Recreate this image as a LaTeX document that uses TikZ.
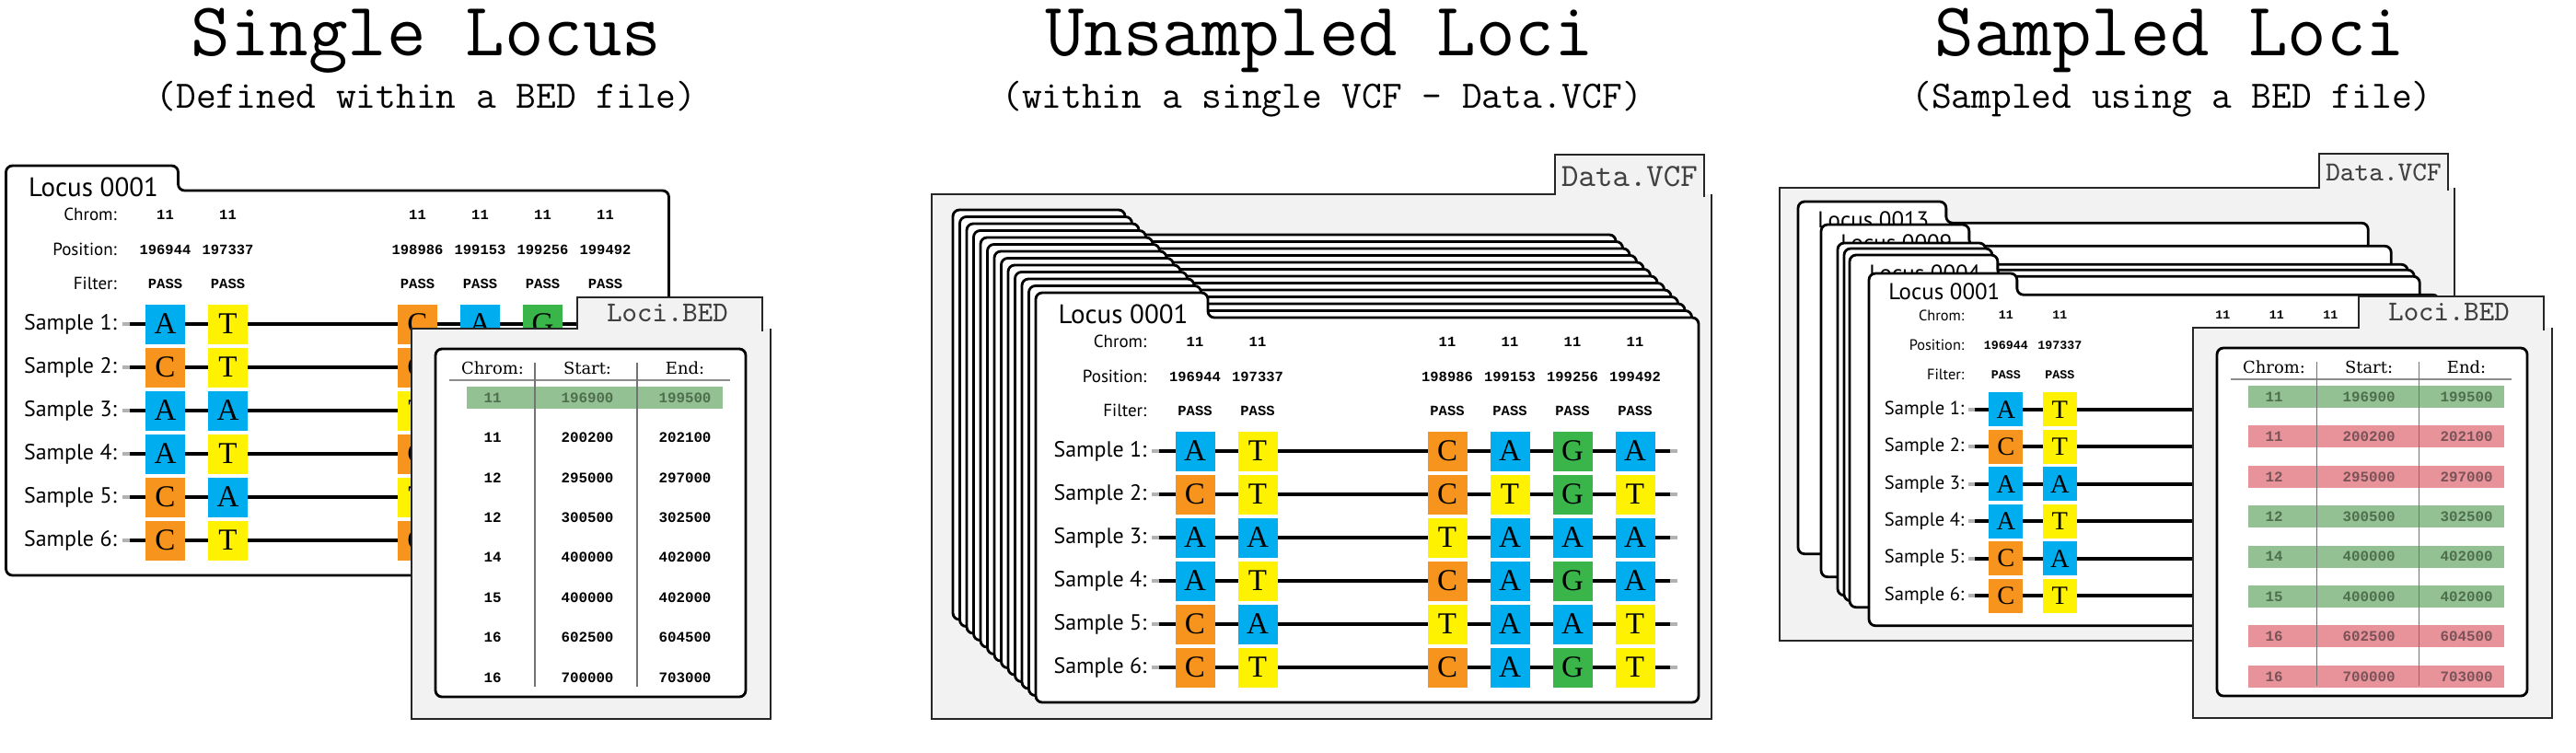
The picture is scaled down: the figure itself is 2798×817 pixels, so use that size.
\documentclass[tikz,border=0pt]{standalone}
\usepackage{fontspec}
\newfontfamily\sansfam{PT Sans}
\newfontfamily\monofam{Liberation Mono}
\newfontfamily\seriffam{Liberation Serif}
\newfontfamily\headfam{DejaVu Serif}
\definecolor{baseA}{HTML}{00AEEF}
\definecolor{baseT}{HTML}{FFF200}
\definecolor{baseC}{HTML}{F7941D}
\definecolor{baseG}{HTML}{39B54A}
\definecolor{bedok}{HTML}{93C193}
\definecolor{bedno}{HTML}{E8939A}
\definecolor{okink}{HTML}{4E6E4E}
\definecolor{noink}{HTML}{7A5358}
\definecolor{cabgray}{HTML}{F2F2F2}
\tikzset{
  folder/.style={draw=black, fill=white, line width=0.8pt, rounded corners=2pt},
  cabinet/.style={draw=black!85, line width=0.8pt},
  sheet/.style={draw=black, fill=white, line width=0.8pt, rounded corners=2pt},
  title/.style={anchor=base, inner sep=0pt, font=\ttfamily\fontsize{23.5}{26}\selectfont},
  subtitle/.style={anchor=base, inner sep=0pt, font=\ttfamily\fontsize{12}{14}\selectfont},
  fname/.style={text=black!75, font=\ttfamily\fontsize{#1}{#1}\selectfont},
  fname/.default=8.9,
  loclbl/.style={anchor=base west, inner sep=0pt, font=\sansfam\fontsize{8.25}{9}\selectfont},
  field/.style={anchor=east, inner sep=0pt, font=\sansfam\fontsize{5.4}{6}\selectfont},
  sample/.style={anchor=east, inner sep=0pt, font=\sansfam\fontsize{6.8}{8}\selectfont},
  datum/.style={inner sep=0pt, font=\monofam\bfseries\fontsize{4.4}{5}\selectfont},
  nucleo/.style={minimum size=0.43cm, inner sep=0pt, font=\seriffam\fontsize{9.4}{10}\selectfont},
  strand/.style={line width=1.15pt},
  stub/.style={line width=1.15pt, black!30},
  bedhead/.style={font=\headfam\fontsize{5.1}{6}\selectfont},
  bednum/.style={font=\monofam\bfseries\fontsize{4.5}{5}\selectfont},
  rule/.style={draw=black!45, line width=0.6pt},
  divider/.style={draw=black!55, line width=0.3pt}
}
\def\colx{{173,241,447,515,583,651}}
% one locus sheet, origin at the top left of its tab
\newcommand\sheetfolder{%
  \draw[folder] (0,445) -- (0,0) -- (187,0) -- (187,27) -- (720,27) -- (720,445) -- cycle;}
\newcommand\locustab[1]{\node[loclbl] (loctag) at (24,33) {#1};}
% #1 chrom columns shown, #2 position/filter columns, #3 sample columns,
% #4 sample columns in row 1, #5 strand end
\newcommand\locusdata[5]{%
  \node[field] (chromlbl) at (121,53) {Chrom:};
  \node[field] (poslbl) at (121,91) {Position:};
  \node[field] (filtlbl) at (121,128) {Filter:};
  \foreach \cx/\pos [count=\coli] in {173/196944,241/197337,447/198986,515/199153,583/199256,651/199492}{
    \ifnum\coli>#1\else \node[datum] at (\cx,53) {11};\fi
    \ifnum\coli>#2\else
      \node[datum] at (\cx,91) {\pos};
      \node[datum] at (\cx,128) {PASS};
    \fi
  }
  \foreach \bases [count=\rowi] in {{A,T,C,A,G,A},{C,T,C,T,G,T},{A,A,T,A,A,A},{A,T,C,A,G,A},{C,A,T,A,A,T},{C,T,C,A,G,T}}{
    \pgfmathsetmacro\ry{172+47*(\rowi-1)}
    \node[sample] (smp\rowi) at (121,\ry) {Sample \rowi:};
    \draw[strand] (134,\ry) -- (#5,\ry);
    \draw[stub] (126,\ry) -- (134,\ry);
    \ifnum#5>690 \draw[stub] (689,\ry) -- (697,\ry);\fi
    \foreach \nuc [count=\coli] in \bases {
      \pgfmathtruncatemacro\ncol{\rowi==1 ? #4 : #3}
      \ifnum\coli>\ncol\else
        \pgfmathsetmacro\cx{\colx[\coli-1]}
        \node[nucleo, fill=base\nuc] at (\cx,\ry) {\nuc};
      \fi
    }
  }}
% BED file, origin at the top left of its body
\newcommand\bedfile[2]{%
  \begin{scope}[shift={#1}]
    \fill[cabgray] (0,0) -- (180,0) -- (180,-34) -- (381,-34) -- (381,0) -- (390,0) -- (390,424) -- (0,424) -- cycle;
    \draw[cabinet] (381,3) -- (381,-34) -- (180,-34) -- (180,0) -- (0,0) -- (0,424) -- (390,424) -- (390,0);
    \node[fname] (bedtag) at (278,-17) {Loci.BED};
    \draw[sheet] (26,22) rectangle (363,400);
    \node[bedhead] (hchrom) at (88,43) {Chrom:};
    \node[bedhead] (hstart) at (191,43) {Start:};
    \node[bedhead] (hend) at (297,43) {End:};
    \foreach \fc/\ink/\chr/\beg/\fin [count=\rowi from 0] in {#2}{
      \pgfmathsetmacro\ry{75+43.4*\rowi}
      \fill[\fc] (60,{\ry-12}) rectangle (338,{\ry+12});
      \node[bednum, text=\ink] at (88,\ry) {\chr};
      \node[bednum, text=\ink] at (191,\ry) {\beg};
      \node[bednum, text=\ink] at (297,\ry) {\fin};
    }
    \draw[rule] (41,56) -- (346,56);
    \draw[divider] (134,37) -- (134,389) (245,37) -- (245,389);
  \end{scope}}

\begin{document}
\begin{tikzpicture}[x=0.01cm, y=-0.01cm]
\useasboundingbox (0,0) rectangle (2798,817);

% titles
\node[title] (single) at (463,60) {Single Locus};
\node[subtitle] (singlesub) at (463,117) {(Defined within a BED file)};
\node[title] (unsampled) at (1433,60) {Unsampled Loci};
\node[subtitle] (unsampledsub) at (1436,117) {(within a single VCF - Data.VCF)};
\node[title] (sampled) at (2357,60) {Sampled Loci};
\node[subtitle] (sampledsub) at (2359,117) {(Sampled using a BED file)};

% single locus
\begin{scope}[shift={(6.5,180)}]
  \sheetfolder \locustab{Locus 0001} \locusdata{6}{6}{3}{5}{697}
\end{scope}
\bedfile{(447,357)}{bedok/okink/11/196900/199500, white/black/11/200200/202100,
  white/black/12/295000/297000, white/black/12/300500/302500, white/black/14/400000/402000,
  white/black/15/400000/402000, white/black/16/602500/604500, white/black/16/700000/703000}

% unsampled loci
\fill[cabgray] (1012,211) -- (1689,211) -- (1689,168) -- (1851,168) -- (1851,211) -- (1859,211) -- (1859,781) -- (1012,781) -- cycle;
\draw[cabinet] (1851,214) -- (1851,168) -- (1689,168) -- (1689,211) -- (1012,211) -- (1012,781) -- (1859,781) -- (1859,211);
\node[fname=10] (vcfmid) at (1770,192) {Data.VCF};
\foreach \k in {0,...,11}{
  \begin{scope}[shift={({1035+7.5*\k},{228+7.5*\k})}]
    \sheetfolder
  \end{scope}
}
\begin{scope}[shift={(1125,318)}]
  \sheetfolder \locustab{Locus 0001} \locusdata{6}{6}{6}{6}{697}
\end{scope}

% sampled loci
\fill[cabgray] (1933,204) -- (2519,204) -- (2519,167) -- (2659,167) -- (2659,204) -- (2666,204) -- (2666,696) -- (1933,696) -- cycle;
\draw[cabinet] (2659,207) -- (2659,167) -- (2519,167) -- (2519,204) -- (1933,204) -- (1933,696) -- (2666,696) -- (2666,204);
\node[fname=8.5] (vcfright) at (2589,187) {Data.VCF};
\foreach \sx/\sy/\tag in {1953/219/0013,1978/244/0009}{
  \begin{scope}[shift={(\sx,\sy)}, scale=0.86, transform shape]
    \sheetfolder \locustab{Locus \tag}
  \end{scope}
}
\foreach \sx/\sy in {1996/264,2003/270}{
  \begin{scope}[shift={(\sx,\sy)}, scale=0.86, transform shape]
    \sheetfolder
  \end{scope}
}
\begin{scope}[shift={(2009,277)}, scale=0.86, transform shape]
  \sheetfolder \locustab{Locus 0004}
\end{scope}
\begin{scope}[shift={(2030,297)}, scale=0.86, transform shape]
  \sheetfolder \locustab{Locus 0001} \locusdata{5}{2}{2}{2}{420}
\end{scope}
\bedfile{(2382,356)}{bedok/okink/11/196900/199500, bedno/noink/11/200200/202100,
  bedno/noink/12/295000/297000, bedok/okink/12/300500/302500, bedok/okink/14/400000/402000,
  bedok/okink/15/400000/402000, bedno/noink/16/602500/604500, bedno/noink/16/700000/703000}
\end{tikzpicture}
\end{document}
